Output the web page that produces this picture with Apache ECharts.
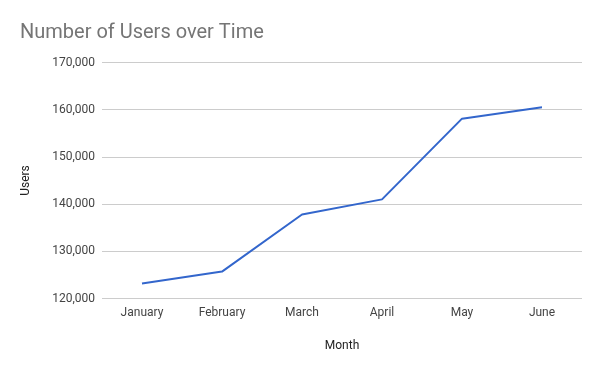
<!DOCTYPE html>
<html>
<head>
<meta charset="utf-8">
<script src="https://cdn.jsdelivr.net/npm/echarts@6/dist/echarts.min.js"></script>
<style>html,body{margin:0;padding:0;background:#fff}#c{width:600px;height:371px}</style>
</head>
<body>
<div id="c"></div>
<script>
const months = ["January", "February", "March", "April", "May", "June"];
const users = [123200, 125700, 137800, 141000, 158100, 160500];
const yMin = 120000, yMax = 170000, yStep = 10000;

const chart = echarts.init(document.getElementById('c'), null, {renderer: 'canvas'});
chart.setOption({
  animation: false,
  backgroundColor: '#ffffff',
  title: {
    text: 'Number of Users over Time',
    left: 15, top: 18,
    textStyle: {fontFamily: 'Roboto', fontSize: 20, fontWeight: 'normal', color: '#757575'}
  },
  grid: {left: 102, right: 18, top: 62.5, bottom: 72.5},
  xAxis: {
    type: 'category',
    data: months,
    boundaryGap: true,
    name: 'Month',
    nameLocation: 'middle',
    nameGap: 41,
    nameTextStyle: {fontFamily: 'Roboto', fontSize: 12, color: '#222'},
    axisLine: {show: false},
    axisTick: {show: false},
    axisLabel: {fontFamily: 'Roboto', fontSize: 12, color: '#444', margin: 8}
  },
  yAxis: {
    type: 'value',
    min: yMin, max: yMax, interval: yStep,
    name: 'Users',
    nameLocation: 'middle',
    nameGap: 70,
    nameTextStyle: {fontFamily: 'Roboto', fontSize: 12, color: '#222'},
    axisLine: {show: false},
    axisTick: {show: false},
    splitLine: {lineStyle: {color: '#cccccc', width: 1}},
    axisLabel: {
      fontFamily: 'Roboto', fontSize: 12, color: '#444', margin: 7,
      formatter: v => v.toLocaleString('en-US')
    }
  },
  series: [{
    type: 'line',
    data: users,
    symbol: 'none',
    lineStyle: {color: '#3366cc', width: 2},
    itemStyle: {color: '#3366cc'}
  }]
});
</script>
</body>
</html>
